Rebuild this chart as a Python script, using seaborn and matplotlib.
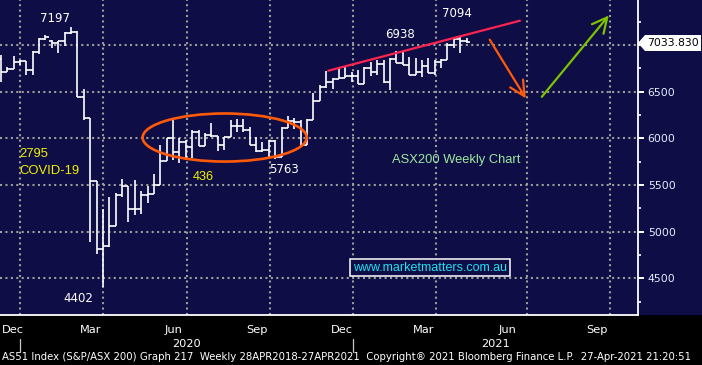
import matplotlib
matplotlib.use("Agg")
import matplotlib.pyplot as plt
import matplotlib.dates as mdates
import matplotlib.transforms as mtransforms
from matplotlib.patches import Ellipse, Polygon, Rectangle
from matplotlib.ticker import MultipleLocator
import pandas as pd
import seaborn as sns

# weekly bars, first week ending 2019-12-06
first_week = '2019-12-06'
opens = [6850, 6708, 6743, 6815, 6826, 6735, 6929, 7065, 7047, 7019,
         7040, 7130, 7139, 6441, 6216, 5539, 4817, 4842, 5063, 5388,
         5488, 5242, 5245, 5391, 5405, 5497, 5757, 6000, 5857, 5957,
         5911, 6071, 5921, 6036, 6025, 5929, 6011, 6132, 6130, 6085,
         5929, 5864, 5870, 5975, 5803, 6108, 6185, 6175, 5925, 6200,
         6405, 6547, 6600, 6636, 6644, 6665, 6665, 6587, 6758, 6715,
         6800, 6607, 6847, 6805, 6786, 6679, 6714, 6780, 6705, 6822,
         6840, 7001, 7063, 7044]
highs = [6890, 6768, 6883, 6840, 6830, 6936, 7075, 7110, 7054, 7047,
         7143, 7197, 7150, 6530, 6216, 5545, 5240, 5375, 5411, 5561,
         5489, 5550, 5432, 5492, 5614, 5929, 6005, 6197, 6000, 5982,
         6089, 6089, 6054, 6161, 6030, 6011, 6197, 6205, 6205, 6118,
         6018, 5964, 5982, 5985, 6125, 6240, 6215, 6197, 6205, 6483,
         6572, 6725, 6644, 6751, 6768, 6714, 6733, 6761, 6822, 6840,
         6840, 6858, 6938, 6929, 6875, 6858, 6840, 6858, 6840, 6847,
         7019, 7072, 7094, 7072]
lows = [6600, 6708, 6743, 6786, 6679, 6679, 6900, 7050, 6972, 6912,
        6993, 7115, 6440, 6200, 4890, 4760, 4402, 4839, 5064, 5368,
        5107, 5178, 5186, 5310, 5405, 5497, 5757, 5768, 5732, 5786,
        5786, 5921, 5915, 6018, 5868, 5875, 6011, 6071, 6071, 5929,
        5857, 5857, 5803, 5775, 5803, 6108, 6100, 5920, 5925, 6197,
        6404, 6536, 6526, 6633, 6644, 6600, 6587, 6587, 6668, 6679,
        6595, 6520, 6805, 6786, 6679, 6679, 6661, 6697, 6679, 6751,
        6840, 6965, 6918, 7019]
closes = [6708, 6743, 6815, 6826, 6735, 6929, 7065, 7090, 7019, 7040,
          7130, 7139, 6441, 6216, 5539, 4817, 4842, 5063, 5388, 5488,
          5242, 5245, 5391, 5405, 5497, 5757, 6000, 5857, 5957, 5911,
          6071, 5921, 6036, 6025, 5929, 6011, 6132, 6130, 6085, 5929,
          5864, 5870, 5975, 5803, 6108, 6185, 6175, 5925, 6200, 6405,
          6547, 6600, 6636, 6644, 6665, 6665, 6587, 6758, 6715, 6800,
          6607, 6847, 6805, 6786, 6679, 6714, 6780, 6705, 6822, 6840,
          7001, 7063, 7044, 7034]
last_price = 7033.83

grid_dates = ['2019-12-27', '2020-03-27', '2020-06-27', '2020-09-26',
              '2020-12-26', '2021-03-28', '2021-07-05', '2021-10-04']
month_labels = ['Dec', 'Mar', 'Jun', 'Sep', 'Dec', 'Mar', 'Jun', 'Sep']
month_label_dates = ['2019-12-19', '2020-03-13', '2020-06-13', '2020-09-12',
                     '2020-12-14', '2021-03-14', '2021-06-14', '2021-09-20']
year_labels = ['2020', '2021']
year_label_dates = ['2020-06-27', '2021-06-01']
year_sep_dates = ['2019-12-27', '2020-12-26']
y_ticks = [4500, 5000, 5500, 6000, 6500, 7000]
y_tick_labels = ['4500', '5000', '5500', '6000', '6500', '']

navy = '#0e0d45'
orange = '#ff5a0a'

sns.set_theme(style='dark', rc={'axes.facecolor': navy, 'figure.facecolor': 'black'})
plt.rcParams['font.family'] = ['DejaVu Sans']

df = pd.DataFrame({'date': pd.date_range(first_week, periods=len(closes), freq='W-FRI'),
                   'open': opens, 'high': highs, 'low': lows, 'close': closes})

fig = plt.figure(figsize=(7.02, 3.65), dpi=100)
bot = 50.5 / 365
fig.add_artist(Rectangle((0, bot), 1, 1 - bot, transform=fig.transFigure,
                         facecolor=navy, edgecolor='none', zorder=0))
ax = fig.add_axes([0, bot, 638 / 702, 1 - bot])
ax.set_facecolor(navy)

# OHLC bars
half = pd.Timedelta(days=3.5)
ax.vlines(df['date'], df['low'], df['high'], color='white', lw=1.2, zorder=3)
ax.hlines(df['open'], df['date'] - half, df['date'], color='white', lw=1.2, zorder=3)
ax.hlines(df['close'], df['date'], df['date'] + half, color='white', lw=1.2, zorder=3)

ax.set_xlim(pd.Timestamp('2019-12-05 02:00'), pd.Timestamp('2021-11-04 02:00'))
ax.set_ylim(4112, 7483)

# dotted grid
dots = (0, (1, 1.6))
for p in y_ticks:
    ax.axhline(p, color='#9c9c9c', lw=1.5, ls=dots, zorder=1)
for d in grid_dates:
    ax.axvline(pd.Timestamp(d), color='#9c9c9c', lw=1.5, ls=dots, zorder=1)

# spines
for s in ['left', 'top']:
    ax.spines[s].set_visible(False)
for s in ['right', 'bottom']:
    ax.spines[s].set_color('white')
    ax.spines[s].set_linewidth(1.3)

ax.yaxis.tick_right()
ax.set_yticks(y_ticks)
ax.set_yticklabels(y_tick_labels)
ax.yaxis.set_minor_locator(MultipleLocator(250))
ax.tick_params(axis='y', which='major', colors='white', labelcolor='#e4eeff',
               labelsize=7.8, length=4.5, width=1.4, pad=2.5, direction='out')
ax.tick_params(axis='y', which='minor', colors='white', length=2.5, width=1.2, direction='out')

ax.set_xticks([pd.Timestamp(d) for d in grid_dates])
ax.set_xticklabels([])
ax.xaxis.set_minor_locator(mdates.MonthLocator())
ax.tick_params(axis='x', which='major', colors='white', length=3.5, width=1.2, direction='out')
ax.tick_params(axis='x', which='minor', colors='white', length=2.5, width=1.0, direction='out')
ax.grid(False)

trans = mtransforms.blended_transform_factory(ax.transData, ax.transAxes)
for lab, d in zip(month_labels, month_label_dates):
    ax.text(pd.Timestamp(d), -0.05, lab, transform=trans, ha='center', va='center',
            color='white', fontsize=8.2, clip_on=False)
for lab, d in zip(year_labels, year_label_dates):
    ax.text(pd.Timestamp(d), -0.095, lab, transform=trans, ha='center', va='center',
            color='white', fontsize=8.2, clip_on=False)
for d in year_sep_dates:
    ax.plot([pd.Timestamp(d)] * 2, [-0.078, -0.118], transform=trans, color='#c8c8c8',
            lw=0.9, clip_on=False)

# annotations drawn on chart
ax.plot([pd.Timestamp('2020-11-29 07:00'), pd.Timestamp('2021-06-27 14:00')], [6725, 7261],
        color='#ff2350', lw=1.6, zorder=4)
ax.add_patch(Ellipse((mdates.date2num(pd.Timestamp('2020-08-07 14:00')), 6009),
                     width=180, height=515, fill=False, edgecolor=orange, lw=1.9, zorder=4))
ax.annotate('', xy=(pd.Timestamp('2021-07-05 14:00'), 6403),
            xytext=(pd.Timestamp('2021-05-23 19:00'), 7083),
            arrowprops=dict(arrowstyle='->,head_length=0.9,head_width=0.45', color=orange, lw=1.6))
ax.annotate('', xy=(pd.Timestamp('2021-10-05'), 7340),
            xytext=(pd.Timestamp('2021-07-19 14:00'), 6422),
            arrowprops=dict(arrowstyle='->,head_length=0.9,head_width=0.45', color='#7cc400', lw=1.6))

white_labels = [('7197', '2020-02-03', 7290), ('4402', '2020-02-28 14:00', 4288),
                ('5763', '2020-10-12', 5661), ('6938', '2021-02-16', 7108),
                ('7094', '2021-04-19 12:00', 7333)]
for txt, d, p in white_labels:
    ax.text(pd.Timestamp(d), p, txt, color='white', fontsize=8.5, ha='center', va='center', zorder=5)

ax.text(pd.Timestamp('2019-12-26'), 5832, '2795', color='#f2f200', fontsize=9.4,
        family='Liberation Sans', ha='left', va='center')
ax.text(pd.Timestamp('2019-12-26'), 5650, 'COVID-19', color='#f2f200', fontsize=9.4,
        family='Liberation Sans', ha='left', va='center')
ax.text(pd.Timestamp('2020-07-14 19:00'), 5586, '436', color='#f2f200', fontsize=9.2,
        family='Liberation Sans', ha='center', va='center')
ax.text(pd.Timestamp('2021-04-18 10:00'), 5768, 'ASX200 Weekly Chart', color='#9ee89e',
        fontsize=9.3, family='Liberation Sans', ha='center', va='center')
ax.text(pd.Timestamp('2021-03-20 22:00'), 4615, 'www.marketmatters.com.au', color='#1ee2f2',
        fontsize=9, family='Liberation Sans', ha='center', va='center', zorder=5,
        bbox=dict(boxstyle='square,pad=0.22', facecolor=navy, edgecolor='white', lw=1.1))

# last price box on the right axis
W, H = 702, 365
box = [(638, 43), (645, 35), (701, 35), (701, 51), (645, 51)]
fig.add_artist(Polygon([(x / W, 1 - y / H) for x, y in box], closed=True,
                       transform=fig.transFigure, facecolor='white', edgecolor='none', zorder=10))
fig.text(673 / W, 1 - 43 / H, f'{last_price:.3f}', color='black', fontsize=7.8,
         ha='center', va='center', zorder=11)

footer = fig.text(2 / W, 1 - 357 / H,
                  'AS51 Index (S&P/ASX 200) Graph 217  Weekly 28APR2018-27APR2021  '
                  'Copyright\u00ae 2021 Bloomberg Finance L.P.  27-Apr-2021 21:20:51',
                  color='white', fontsize=7, ha='left', va='center')
fig.canvas.draw()
w = footer.get_window_extent().width
footer.set_fontsize(7 * 697 / w)

fig.savefig('out.png', dpi=100, facecolor='black')
